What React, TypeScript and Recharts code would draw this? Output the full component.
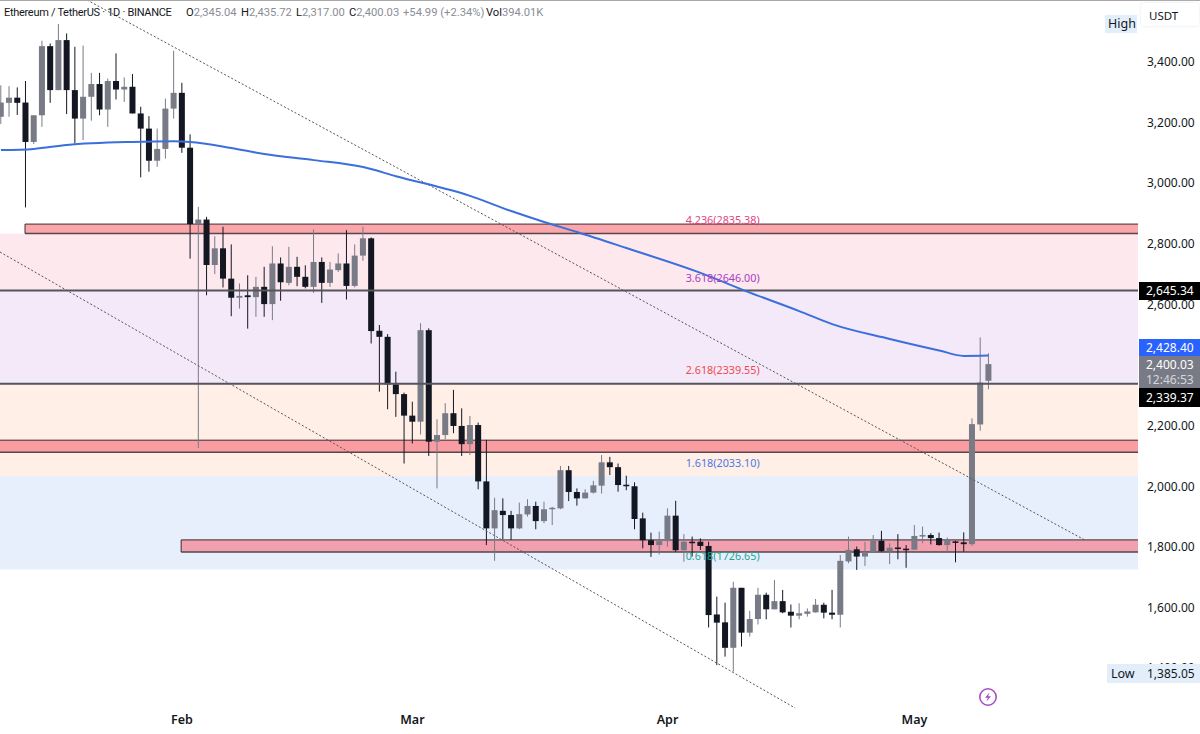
import React from 'react';
import {
  ComposedChart,
  Bar,
  Line,
  XAxis,
  YAxis,
  ReferenceArea,
  ReferenceLine,
  ReferenceDot,
} from 'recharts';

const opens = [3216,3262,3279,3263,3133,3221,3449,3304,3469,3304,3210,3282,3324,3240,3334,3306,3315,3227,3177,3071,3110,3243,3295,3114,2862,2877,2727,2782,2682,2619,2627,2621,2655,2598,2732,2668,2721,2688,2655,2737,2668,2710,2732,2658,2758,2815,2510,2490,2333,2301,2230,2210,2512,2144,2166,2238,2196,2136,2199,2013,1858,1916,1902,1858,1904,1932,1882,1921,1924,2050,1978,1957,1976,1999,2076,2060,2002,1997,1891,1819,1803,1816,1900,1786,1814,1814,1800,1574,1548,1464,1662,1514,1559,1639,1591,1618,1583,1570,1576,1581,1606,1580,1573,1749,1789,1765,1779,1817,1783,1795,1791,1788,1832,1836,1826,1803,1815,1812,1806,2201,2345];
const highs = [3320,3317,3313,3334,3221,3467,3458,3522,3491,3447,3451,3361,3361,3342,3425,3346,3357,3249,3218,3177,3276,3434,3328,3158,2919,2886,2822,2853,2795,2666,2693,2688,2721,2789,2752,2787,2754,2726,2844,2752,2737,2765,2842,2795,2853,2818,2529,2499,2375,2306,2276,2535,2518,2218,2271,2315,2254,2229,2207,2150,1959,1957,1916,1943,1954,1946,1946,1929,2064,2064,1990,1987,2015,2100,2094,2072,2032,2010,1910,1844,1847,1924,1949,1839,1831,1825,1814,1633,1613,1682,1662,1586,1662,1646,1688,1655,1607,1611,1594,1625,1613,1655,1770,1831,1798,1814,1836,1850,1809,1839,1803,1869,1864,1842,1844,1828,1817,1845,2221,2488,2436];
const lows = [3192,3216,3222,2917,3126,3183,3262,3304,3225,3128,3139,3203,3221,3183,3273,3265,3227,3016,3035,3051,3078,3210,3097,2748,2123,2627,2697,2653,2558,2583,2517,2556,2556,2545,2609,2660,2657,2650,2635,2602,2655,2704,2613,2653,2741,2468,2309,2251,2226,2072,2138,2168,2097,1990,2152,2172,2097,2100,1987,1803,1751,1822,1820,1855,1897,1855,1875,1869,1921,1948,1933,1957,1973,1973,2034,1979,1984,1855,1792,1764,1772,1797,1781,1748,1765,1787,1531,1407,1435,1385,1468,1501,1541,1558,1591,1578,1531,1558,1567,1580,1561,1558,1531,1743,1721,1734,1779,1781,1740,1756,1728,1787,1809,1805,1801,1781,1746,1781,1800,2180,2317];
const closes = [3263,3279,3262,3133,3221,3449,3304,3469,3304,3210,3282,3324,3240,3334,3306,3315,3227,3177,3071,3110,3243,3295,3114,2862,2877,2727,2782,2682,2619,2625,2621,2655,2598,2732,2670,2721,2688,2655,2737,2668,2712,2732,2658,2758,2815,2509,2490,2333,2301,2230,2210,2512,2144,2166,2238,2196,2136,2199,2013,1858,1918,1902,1858,1905,1932,1882,1921,1926,2050,1978,1957,1976,2000,2076,2060,2001,1997,1889,1819,1803,1816,1900,1786,1814,1811,1800,1572,1547,1464,1662,1514,1559,1639,1591,1618,1581,1570,1578,1584,1606,1580,1573,1751,1787,1765,1779,1817,1783,1794,1792,1788,1833,1836,1826,1803,1820,1812,1806,2202,2339,2400];

const maDays = [0,4,8,16,21,23,28,32,38,44,48,57,62,66,70,76,85,91,97,101,108,114,117,120];
const maValues = [3106,3110,3123,3133,3135,3133,3113,3093,3073,3050,3020,2955,2905,2869,2836,2783,2701,2636,2575,2532,2483,2445,2427,2428];

const priceTicks = [3400,3200,3000,2800,2600,2200,2000,1800,1600,1400];
const monthTicks = [22,50,81,111];
const monthLabels = ['Feb','Mar','Apr','May'];

const fibLevels = [2835.38,2646.0,2339.55,2033.1,1726.65];
const fibNames = ['4.236','3.618','2.618','1.618','0.618'];
const fibColors = ['#e0457f','#a840c0','#ef4a4f','#4c78e0','#1fa58f'];

// band edges as they sit on the picture, a touch under the printed fib prices
const bandEdges = [2830,2643,2335,2031,1722];
const bandFills = ['#fde8ee','#f4e9f9','#ffefe7','#e7effd'];

const X_MIN = -0.11;
const X_MAX = 138.16;
const Y_MIN = 1258.8;
const Y_MAX = 3601.3;

const UP = '#787b86';
const DOWN = '#131722';

const data = opens.map((open, i) => {
  const m = maDays.indexOf(i);
  return {
    day: i,
    open,
    high: highs[i],
    low: lows[i],
    close: closes[i],
    ma: m >= 0 ? maValues[m] : null,
  };
});

const Candle = (props: any) => {
  const { x, y, width, height, payload } = props;
  const top = Math.min(y, y + height);
  const h = Math.abs(height);
  const perUnit = h / Math.max(payload.high - payload.low, 1);
  const bodyTop = top + (payload.high - Math.max(payload.open, payload.close)) * perUnit;
  const bodyH = Math.max(Math.abs(payload.open - payload.close) * perUnit, 1.5);
  const color = payload.close >= payload.open ? UP : DOWN;
  const mid = x + width / 2;
  return (
    <g>
      <line x1={mid} x2={mid} y1={top} y2={top + h} stroke={color} strokeWidth={1} />
      <rect x={x} y={bodyTop} width={width} height={bodyH} fill={color} />
    </g>
  );
};

// red zone: top, bottom and left edge only, it runs open into the price scale
const Zone = (props: any) => {
  const { x, y, width, height, fill } = props;
  return (
    <g>
      <rect x={x} y={y} width={width} height={height} fill={fill} />
      <line x1={x} x2={x + width} y1={y} y2={y} stroke="#3d2a2e" strokeWidth={1} />
      <line x1={x} x2={x + width} y1={y + height} y2={y + height} stroke="#55474a" strokeWidth={1.5} />
      {x > 1 && <line x1={x} x2={x} y1={y} y2={y + height} stroke="#3d2a2e" strokeWidth={1} />}
    </g>
  );
};

const Text = ({ x, y, color = '#131722', size = 12, weight = 400, family, spacing, children }: any) => (
  <span
    style={{
      position: 'absolute',
      left: x,
      top: y - 7,
      height: 14,
      lineHeight: '14px',
      color,
      fontSize: size,
      fontWeight: weight,
      fontFamily: family,
      letterSpacing: spacing,
      whiteSpace: 'nowrap',
    }}
  >
    {children}
  </span>
);

const Box = ({ x, y, w, h, bg, extra }: any) => (
  <div style={{ position: 'absolute', left: x, top: y, width: w, height: h, background: bg, ...extra }} />
);

const font = '"Noto Sans", sans-serif';
const headFont = 'Roboto, sans-serif';
const GREY = '#8a8d96';
const INK = '#131722';

const PriceTick = ({ x, y, payload }: any) => (
  <text x={x + 7} y={y + 1} dy="0.35em" fill={INK} fontSize={12} fontFamily={font}>
    {payload.value.toLocaleString('en-US', { minimumFractionDigits: 2, maximumFractionDigits: 2 })}
  </text>
);

const HeadValue = ({ x, name, value }: any) => (
  <Text x={x} y={13} size={11.2} color={GREY} family={headFont}>
    <span style={{ color: INK }}>{name}</span>
    {value}
  </Text>
);

export default function App() {
  return (
    <div
      style={{
        position: 'absolute',
        left: 0,
        top: 0,
        width: 1200,
        height: 734,
        overflow: 'hidden',
        background: '#fff',
        fontFamily: font,
      }}
    >
      <ComposedChart
        width={1200}
        height={734}
        data={data}
        margin={{ top: 0, right: 0, bottom: 0, left: 0 }}
        barSize={6}
      >
        <XAxis
          dataKey="day"
          type="number"
          domain={[X_MIN, X_MAX]}
          allowDataOverflow
          ticks={monthTicks}
          tickFormatter={(v: number) => monthLabels[monthTicks.indexOf(v)]}
          height={24}
          axisLine={false}
          tickLine={false}
          tickSize={0}
          tick={{ fill: INK, fontSize: 12.5, fontWeight: 600, fontFamily: font }}
          tickMargin={5}
        />
        <YAxis
          orientation="right"
          type="number"
          domain={[Y_MIN, Y_MAX]}
          allowDataOverflow
          ticks={priceTicks}
          width={62}
          axisLine={false}
          tickLine={false}
          tickSize={0}
          interval={0}
          tick={(p: any) => <PriceTick {...p} />}
        />

        {bandFills.map((fill, i) => (
          <ReferenceArea key={fill} y1={bandEdges[i]} y2={bandEdges[i + 1]} fill={fill} fillOpacity={1} stroke="none" />
        ))}

        <ReferenceArea x1={2.93} x2={X_MAX} y1={2862} y2={2831} fill="#fba6ab" shape={(p: any) => <Zone {...p} />} />
        <ReferenceArea x1={X_MIN} x2={X_MAX} y1={2149} y2={2109} fill="#fa9da3" shape={(p: any) => <Zone {...p} />} />
        <ReferenceArea x1={21.9} x2={X_MAX} y1={1820} y2={1780} fill="#f1a0af" shape={(p: any) => <Zone {...p} />} />

        <ReferenceLine y={2643} stroke="#55555c" strokeWidth={2} />
        <ReferenceLine y={2335} stroke="#55555c" strokeWidth={2} />

        {fibLevels.map((level, i) => (
          <ReferenceDot
            key={fibNames[i]}
            x={87.7}
            y={level}
            r={0}
            shape={(p: any) => (
              <text
                x={p.cx}
                y={p.cy - 8}
                textAnchor="middle"
                fill={fibColors[i]}
                fontSize={10.8}
                fontFamily={font}
              >
                {`${fibNames[i]}(${level.toFixed(2)})`}
              </text>
            )}
          />
        ))}

        <ReferenceLine
          segment={[{ x: 10.46, y: 3601.3 }, { x: 131.7, y: 1819.6 }]}
          stroke="#555"
          strokeWidth={1}
          strokeDasharray="2 2"
        />
        <ReferenceLine
          segment={[{ x: X_MIN, y: 2769.8 }, { x: 96.5, y: 1265.4 }]}
          stroke="#555"
          strokeWidth={1}
          strokeDasharray="2 2"
        />

        <Bar
          dataKey={(d: any) => [d.low, d.high]}
          shape={(p: any) => <Candle {...p} />}
          isAnimationActive={false}
        />
        <Line
          dataKey="ma"
          type="monotone"
          stroke="#3b6fdc"
          strokeWidth={2}
          dot={false}
          activeDot={false}
          connectNulls
          isAnimationActive={false}
        />
      </ComposedChart>

      <Box x={0} y={0} w={1200} h={1} bg="#a9a9a9" />

      <Text x={4} y={13} size={11} spacing={-0.3} family={headFont}>Ethereum / TetherUS · 1D · BINANCE</Text>
      <HeadValue x={186} name="O" value="2,345.04" />
      <HeadValue x={241} name="H" value="2,435.72" />
      <HeadValue x={296} name="L" value="2,317.00" />
      <HeadValue x={349} name="C" value="2,400.03" />
      <HeadValue x={403} name="" value="+54.99 (+2.34%)" />
      <HeadValue x={486} name="Vol" value="394.01K" />

      <Box x={1105} y={15} w={32} h={18} bg="#e3eefb" />
      <Text x={1108} y={24} size={12.5}>High</Text>
      <Box x={1141} y={3} w={58} h={23} bg="#fff" extra={{ borderRadius: 3, boxShadow: '0 0 3px #dde6f2' }} />
      <Text x={1149} y={16} size={11.5}>USDT</Text>

      <Box x={1139} y={282} w={61} h={18} bg="#000" />
      <Text x={1146} y={291} color="#fff">2,645.34</Text>
      <Box x={1139} y={339} w={61} h={18} bg="#2962ff" />
      <Text x={1146} y={347.5} color="#fff">2,428.40</Text>
      <Box x={1139} y={356} w={61} h={33} bg={UP} />
      <Text x={1146} y={365} color="#fff">2,400.03</Text>
      <Text x={1146} y={380} color="#d5d6da">12:46:53</Text>
      <Box x={1139} y={388} w={61} h={19} bg="#000" />
      <Text x={1146} y={397.5} color="#fff">2,339.37</Text>

      <Box x={1107} y={664} w={93} h={19} bg="#e3eefb" />
      <Text x={1111} y={674} size={12.5}>Low</Text>
      <Text x={1147} y={674}>1,385.05</Text>

      <svg style={{ position: 'absolute', left: 978, top: 687 }} width={20} height={20} viewBox="0 0 20 20">
        <circle cx={10} cy={10} r={8.2} fill="#fff" stroke="#a64fc4" strokeWidth={1.6} />
        <path d="M11.5 5.5 L7 10.8 H9.8 L8.5 14.5 L13 9.2 H10.2 Z" fill="#a64fc4" />
      </svg>
    </div>
  );
}
